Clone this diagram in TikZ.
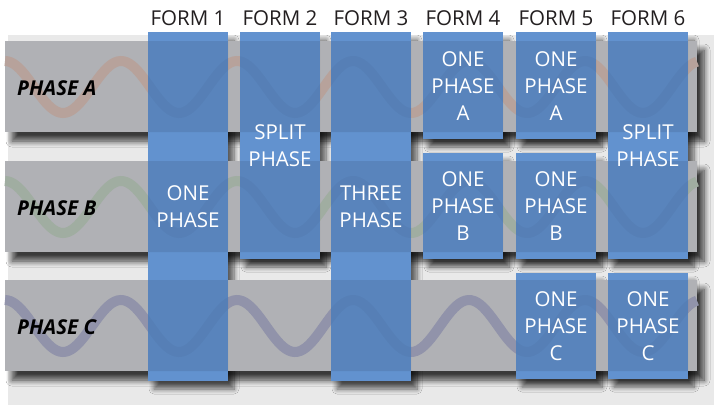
\documentclass[tikz,border=0pt]{standalone}
\usepackage{fontspec}
\setmainfont{Open Sans}
\usetikzlibrary{shadows.blur}
\definecolor{pagegray}{HTML}{E9E9E9}
\definecolor{bargray}{HTML}{B0B1B5}
\definecolor{formblue}{HTML}{6292CF}
\definecolor{waveA}{HTML}{B7A29B}
\definecolor{waveB}{HTML}{A0ADA1}
\definecolor{waveC}{HTML}{9193AA}
\definecolor{inkblack}{HTML}{231F20}
\begin{document}
\begin{tikzpicture}[x=1pt, y=-1pt,
    phasebar/.style={fill=bargray, blur shadow={shadow xshift=7pt, shadow yshift=-9pt, shadow blur radius=6pt, shadow blur steps=8, shadow opacity=75}},
    formshadow/.style={blur shadow={shadow xshift=6pt, shadow yshift=-8pt, shadow blur radius=5pt, shadow blur steps=8, shadow opacity=60}},
    formbox/.style={fill=formblue},
    wave/.style={line width=10pt},
    formhead/.style={inner sep=0pt, text=inkblack, font=\fontsize{20.5}{24}\selectfont},
    phaselabel/.style={anchor=west, inner sep=0pt, text=black, font=\fontsize{20.5}{24}\selectfont\bfseries\itshape},
    formtext/.style={align=center, inner sep=0pt, text=white, font=\fontsize{20.5}{27}\selectfont}]
    % image from (0,0) to (714,405), y axis points down

    % Background
    \fill[white] (0,0) rectangle (714,405);
    \fill[pagegray] (8,35) rectangle (714,405);

    % Shadows of the form columns (they stay behind the bars)
    \path[formshadow] (148,32) rectangle (228,381); % form 1
    \path[formshadow] (240,32) rectangle (320,259); % form 2
    \path[formshadow] (331,32) rectangle (411,381); % form 3
    \path[formshadow] (423,32) rectangle (503,139); % form 4
    \path[formshadow] (423,153) rectangle (503,259);
    \path[formshadow] (516,32) rectangle (596,139); % form 5
    \path[formshadow] (516,153) rectangle (596,259);
    \path[formshadow] (516,273) rectangle (596,379);
    \path[formshadow] (608,32) rectangle (688,259); % form 6
    \path[formshadow] (608,273) rectangle (688,379);

    % Phase bars
    \fill[phasebar] (5,41) rectangle (697,132);  % phase A
    \fill[phasebar] (5,161) rectangle (697,252); % phase B
    \fill[phasebar] (5,280) rectangle (697,371); % phase C

    % Waves on the bars
    \draw[wave, waveA] plot[domain=5:697, samples=240] (\x, {87 - 26*cos((\x-5)/116*360)});
    \draw[wave, waveB] plot[domain=5:697, samples=240] (\x, {207 - 26*cos((\x-5)/116*360)});
    \draw[wave, waveC] plot[domain=5:697, samples=240] (\x, {326 - 26*cos((\x-5)/116*360)});

    % Form columns
    \fill[formbox] (148,32) rectangle (228,381); % form 1
    \fill[formbox] (240,32) rectangle (320,259); % form 2
    \fill[formbox] (331,32) rectangle (411,381); % form 3
    \fill[formbox] (423,32) rectangle (503,139); % form 4
    \fill[formbox] (423,153) rectangle (503,259);
    \fill[formbox] (516,32) rectangle (596,139); % form 5
    \fill[formbox] (516,153) rectangle (596,259);
    \fill[formbox] (516,273) rectangle (596,379);
    \fill[formbox] (608,32) rectangle (688,259); % form 6
    \fill[formbox] (608,273) rectangle (688,379);

    % Bars seen through the columns
    \begin{scope}
        \clip (148,32) rectangle (228,381) (240,32) rectangle (320,259) (331,32) rectangle (411,381)
              (423,32) rectangle (503,139) (423,153) rectangle (503,259)
              (516,32) rectangle (596,139) (516,153) rectangle (596,259) (516,273) rectangle (596,379)
              (608,32) rectangle (688,259) (608,273) rectangle (688,379);
        \fill[black, opacity=0.09] (5,41) rectangle (697,132) (5,161) rectangle (697,252) (5,280) rectangle (697,371);
        \draw[wave, black, opacity=0.03] plot[domain=5:697, samples=240] (\x, {87 - 26*cos((\x-5)/116*360)});
        \draw[wave, black, opacity=0.03] plot[domain=5:697, samples=240] (\x, {207 - 26*cos((\x-5)/116*360)});
        \draw[wave, black, opacity=0.03] plot[domain=5:697, samples=240] (\x, {326 - 26*cos((\x-5)/116*360)});
    \end{scope}

    % Headers
    \node[formhead] (headone) at (188,18) {FORM 1};
    \node[formhead] (headtwo) at (280,18) {FORM 2};
    \node[formhead] (headthree) at (371,18) {FORM 3};
    \node[formhead] (headfour) at (463,18) {FORM 4};
    \node[formhead] (headfive) at (556,18) {FORM 5};
    \node[formhead] (headsix) at (648,18) {FORM 6};

    % Labels
    \node[phaselabel] (labela) at (17,88) {PHASE A};
    \node[phaselabel] (labelb) at (17,208) {PHASE B};
    \node[phaselabel] (labelc) at (17,327) {PHASE C};

    % Text inside columns
    \node[formtext] (oneone) at (188,207) {ONE\\PHASE};
    \node[formtext] (twosplit) at (280,146) {SPLIT\\PHASE};
    \node[formtext] (threethree) at (371,207) {THREE\\PHASE};
    \node[formtext] (foura) at (463,86) {ONE\\PHASE\\A};
    \node[formtext] (fourb) at (463,206) {ONE\\PHASE\\B};
    \node[formtext] (fivea) at (556,86) {ONE\\PHASE\\A};
    \node[formtext] (fiveb) at (556,206) {ONE\\PHASE\\B};
    \node[formtext] (fivec) at (556,326) {ONE\\PHASE\\C};
    \node[formtext] (sixsplit) at (648,146) {SPLIT\\PHASE};
    \node[formtext] (sixc) at (648,326) {ONE\\PHASE\\C};

    \useasboundingbox (0,0) rectangle (714,405);
\end{tikzpicture}
\end{document}
